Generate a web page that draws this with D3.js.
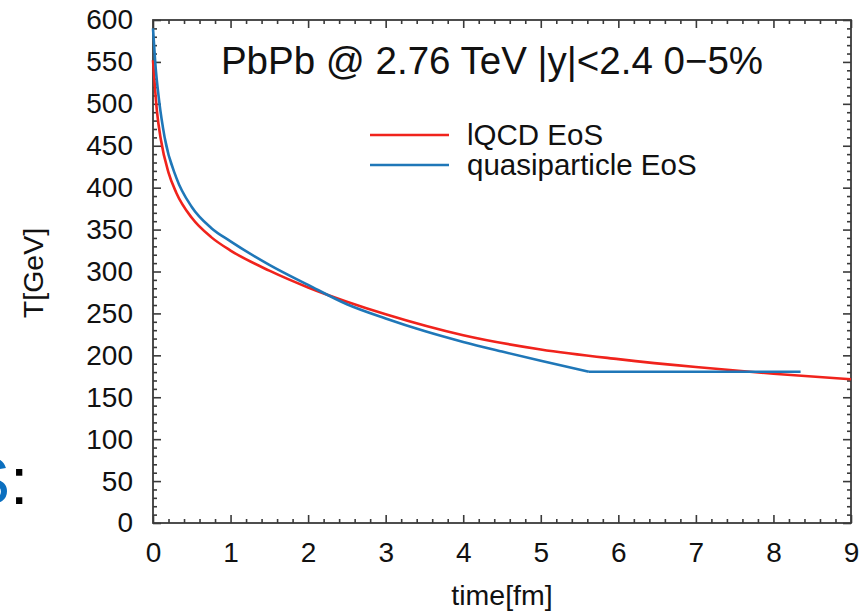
<!DOCTYPE html>
<html>
<head>
<meta charset="utf-8">
<script src="https://cdn.jsdelivr.net/npm/d3@7/dist/d3.min.js"></script>
<style>
  html, body { margin: 0; padding: 0; background: #fff; }
  svg { display: block; }
  text { font-family: "Liberation Sans", Arial, sans-serif; }
</style>
</head>
<body>
<svg id="chart" width="862" height="613"></svg>
<script>
// ---- data ----
const title = "PbPb @ 2.76 TeV |y|<2.4 0\u22125%";
const xLabel = "time[fm]";
const yLabel = "T[GeV]";
const seriesNames = ["lQCD EoS", "quasiparticle EoS"];
const seriesColors = ["#f0231c", "#1f77b8"];

const lqcdTime = [0, 0.05, 0.1, 0.2, 0.3, 0.5, 0.75, 1.0, 1.5, 2.0, 2.5, 3.0, 4.0, 5.0, 6.0, 7.0, 8.0, 9.0];
const lqcdTemp = [552, 492, 458, 418, 394, 364, 341, 325, 301, 281, 264, 249, 224, 207, 195.5, 186, 178, 171.5];

const qpTime = [0, 0.03, 0.08, 0.15, 0.3, 0.5, 0.75, 1.0, 1.5, 2.0, 2.5, 3.0, 3.5, 4.0, 4.5, 5.0, 5.62, 8.35];
const qpTemp = [590, 548, 503, 460, 412, 377, 352, 336, 308, 284, 261, 244, 229, 216, 204.5, 193.5, 180.5, 180.5];

const xTicks = [0, 1, 2, 3, 4, 5, 6, 7, 8, 9];
const yTicks = [0, 50, 100, 150, 200, 250, 300, 350, 400, 450, 500, 550, 600];

// ---- layout ----
const svg = d3.select("#chart");
const L = 153, R = 851, T = 20, B = 523;
const x = d3.scaleLinear().domain([0, 9]).range([L, R]);
const y = d3.scaleLinear().domain([0, 600]).range([B, T]);

const xMinor = d3.range(0, 9.0001, 0.2).map(v => +v.toFixed(2)).filter(v => Math.abs(v - Math.round(v)) > 1e-6);
const yMinor = d3.range(0, 600.1, 10).filter(v => v % 50 !== 0);

const axisColor = "#3a3a3a";
const fontSize = 28;

function styleAxis(g) {
  g.select(".domain").remove();
  g.selectAll(".tick line").attr("stroke", axisColor).attr("stroke-width", 1.6);
  g.selectAll(".tick text").attr("fill", "#111").attr("font-size", fontSize)
    .attr("font-family", '"Liberation Sans", Arial, sans-serif');
}

// bottom
svg.append("g").attr("transform", `translate(0,${B})`)
  .call(d3.axisBottom(x).tickValues(xTicks).tickSize(-8).tickPadding(19).tickFormat(d3.format("d")))
  .call(styleAxis);
svg.append("g").attr("transform", `translate(0,${B})`)
  .call(d3.axisBottom(x).tickValues(xMinor).tickSize(-4).tickFormat(""))
  .call(styleAxis);
// top
svg.append("g").attr("transform", `translate(0,${T})`)
  .call(d3.axisTop(x).tickValues(xTicks).tickSize(-8).tickFormat(""))
  .call(styleAxis);
svg.append("g").attr("transform", `translate(0,${T})`)
  .call(d3.axisTop(x).tickValues(xMinor).tickSize(-4).tickFormat(""))
  .call(styleAxis);
// left
svg.append("g").attr("transform", `translate(${L},0)`)
  .call(d3.axisLeft(y).tickValues(yTicks).tickSize(-8).tickPadding(20).tickFormat(d3.format("d")))
  .call(styleAxis);
svg.append("g").attr("transform", `translate(${L},0)`)
  .call(d3.axisLeft(y).tickValues(yMinor).tickSize(-4).tickFormat(""))
  .call(styleAxis);
// right
svg.append("g").attr("transform", `translate(${R},0)`)
  .call(d3.axisRight(y).tickValues(yTicks).tickSize(-8).tickFormat(""))
  .call(styleAxis);
svg.append("g").attr("transform", `translate(${R},0)`)
  .call(d3.axisRight(y).tickValues(yMinor).tickSize(-4).tickFormat(""))
  .call(styleAxis);

// frame
svg.append("rect").attr("x", L).attr("y", T).attr("width", R - L).attr("height", B - T)
  .attr("fill", "none").attr("stroke", axisColor).attr("stroke-width", 1.8);

// curves
const line = d3.line().x(d => x(d[0])).y(d => y(d[1])).curve(d3.curveMonotoneX);
const lqcd = lqcdTime.map((t, i) => [t, lqcdTemp[i]]);
const qp = qpTime.map((t, i) => [t, qpTemp[i]]);
const qpSmooth = qp.slice(0, qp.length - 1);
const qpLine = d3.line().x(d => x(d[0])).y(d => y(d[1]));

svg.append("path").datum(lqcd).attr("d", line)
  .attr("fill", "none").attr("stroke", seriesColors[0]).attr("stroke-width", 2.6);
svg.append("path").datum(qpSmooth).attr("d", line)
  .attr("fill", "none").attr("stroke", seriesColors[1]).attr("stroke-width", 2.6);
svg.append("path").datum(qp.slice(qp.length - 2)).attr("d", qpLine)
  .attr("fill", "none").attr("stroke", seriesColors[1]).attr("stroke-width", 2.6);

// title
svg.append("text").attr("x", 492).attr("y", 74).attr("text-anchor", "middle")
  .attr("font-size", 38.5).attr("fill", "#111").text(title);

// legend
const legY = [135, 165];
seriesNames.forEach((name, i) => {
  svg.append("line").attr("x1", 370).attr("x2", 449).attr("y1", legY[i]).attr("y2", legY[i])
    .attr("stroke", seriesColors[i]).attr("stroke-width", 2.6);
  svg.append("text").attr("x", 467).attr("y", legY[i] + 10).attr("font-size", 29.5)
    .attr("fill", "#111").text(name);
});

// axis labels
svg.append("text").attr("x", (L + R) / 2).attr("y", 605).attr("text-anchor", "middle")
  .attr("font-size", 28.5).attr("fill", "#111").text(xLabel);
svg.append("text").attr("transform", "translate(43,273) rotate(-90)").attr("text-anchor", "middle")
  .attr("font-size", 28.5).attr("fill", "#111").text(yLabel);

// slide fragment at left (cut off at the left edge, as in the reference)
const frag = svg.append("text").attr("x", -34).attr("y", 504).attr("font-size", 66);
frag.append("tspan").attr("fill", "#0b6fbf").text("S");
frag.append("tspan").attr("fill", "#000").text(":");
</script>
</body>
</html>
